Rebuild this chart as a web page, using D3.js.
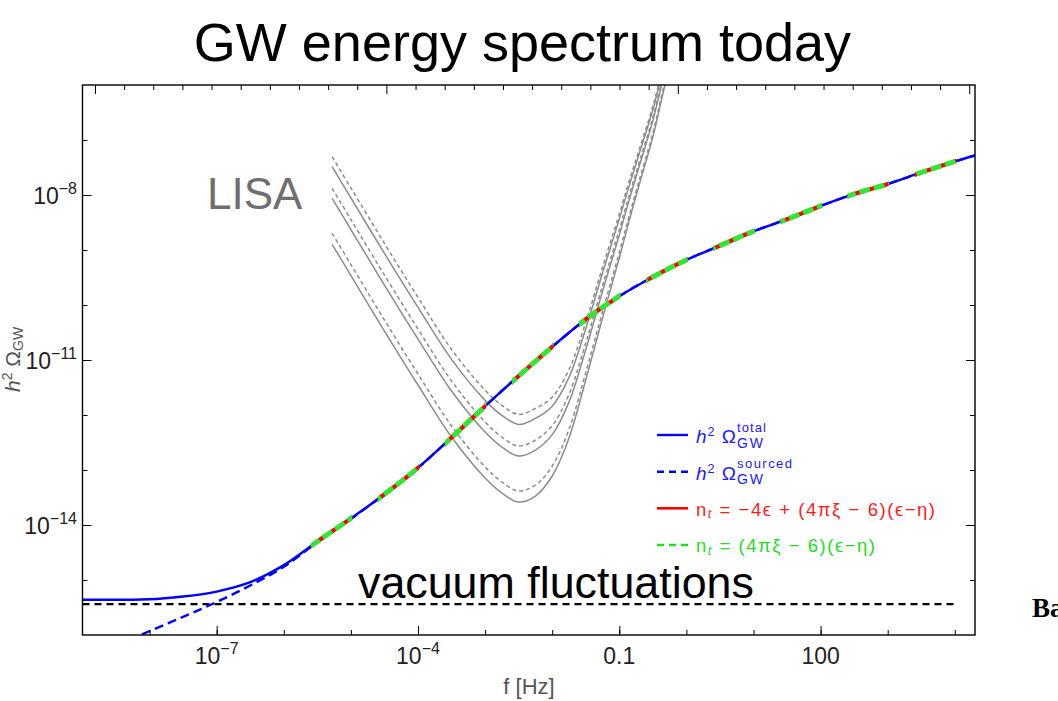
<!DOCTYPE html>
<html><head><meta charset="utf-8">
<script src="https://cdn.jsdelivr.net/npm/d3@7"></script>
<style>
body{margin:0;background:#fff}
svg{display:block}
text{font-family:"Liberation Sans",Arial,Helvetica,sans-serif}
</style>
</head><body>
<svg id="c" width="1058" height="701"></svg>
<script>
// ---------------- DATA ----------------
// total spectrum h^2 Omega_GW^total  (log10 f [Hz], log10 Omega)
const totalLogF     = [-9.0,-8.5,-8.0,-7.5,-7.0,-6.5,-6.0,-5.5,-5.0,-4.5,-4.0,-3.5,-3.0,-2.5,-2.0,-1.5,-1.0,-0.5,0.0,0.5,1.0,1.5,2.0,2.5,3.0,3.5,4.0,4.3];
const totalLogOmega = [-15.36,-15.36,-15.35,-15.30,-15.21,-15.04,-14.73,-14.30,-13.88,-13.44,-12.96,-12.41,-11.84,-11.29,-10.76,-10.26,-9.84,-9.49,-9.18,-8.92,-8.66,-8.44,-8.20,-7.98,-7.80,-7.59,-7.39,-7.28];
// sourced part h^2 Omega_GW^sourced
const sourcedLogF     = [-8.5,-8.0,-7.5,-7.0,-6.5,-6.0,-5.5,-5.0,-4.5,-4.0,-3.5,-3.0,-2.5,-2.0,-1.5,-1.0,-0.5,0.0,0.5,1.0,1.5,2.0,2.5,3.0,3.5,4.0,4.3];
const sourcedLogOmega = [-16.18,-15.93,-15.67,-15.40,-15.10,-14.76,-14.31,-13.89,-13.44,-12.96,-12.41,-11.84,-11.29,-10.76,-10.26,-9.84,-9.49,-9.18,-8.92,-8.66,-8.44,-8.20,-7.98,-7.80,-7.59,-7.39,-7.28];
// n_t approximations drawn on frequency windows (log10 f start, end)
const ntWindowsLogF = [[-5.6,-4.98],[-4.6,-3.98],[-3.6,-2.98],[-2.6,-1.98],[-1.6,-0.98],[-0.6,0.02],[0.4,1.02],[1.4,2.02],[2.4,3.02],[3.4,4.02]];
// vacuum fluctuations level
const vacuumLogOmega = -15.44;
const vacuumLogF = [-9.0, 4.0];
// LISA sensitivity curves
const lisaLogF = [-5.28,-5.0,-4.5,-4.0,-3.5,-3.0,-2.75,-2.5,-2.25,-2.0,-1.75,-1.5,-1.25,-1.0,-0.85,-0.7,-0.5,-0.33,-0.25];
const lisa1 = [-7.303,-7.871,-8.880,-9.862,-10.807,-11.552,-11.825,-11.989,-11.880,-11.675,-11.175,-10.313,-9.312,-8.348,-7.738,-7.163,-6.387,-5.577,-5.212];
const lisa2 = [-7.485,-8.053,-9.062,-10.044,-10.989,-11.734,-12.007,-12.171,-12.062,-11.839,-11.317,-10.433,-9.418,-8.439,-7.820,-7.236,-6.451,-5.632,-5.267];
const lisa3 = [-7.878,-8.446,-9.455,-10.437,-11.382,-12.127,-12.400,-12.564,-12.455,-12.193,-11.624,-10.692,-9.646,-8.636,-7.997,-7.393,-6.589,-5.750,-5.385];
const lisa4 = [-8.060,-8.628,-9.637,-10.619,-11.564,-12.309,-12.582,-12.746,-12.637,-12.357,-11.766,-10.812,-9.751,-8.727,-8.079,-7.466,-6.652,-5.804,-5.439];
const lisa5 = [-8.696,-9.264,-10.273,-11.255,-12.200,-12.945,-13.218,-13.382,-13.273,-12.929,-12.262,-11.232,-10.120,-9.045,-8.365,-7.720,-6.875,-5.995,-5.630];
const lisa6 = [-8.896,-9.464,-10.473,-11.455,-12.400,-13.145,-13.418,-13.582,-13.473,-13.109,-12.418,-11.364,-10.236,-9.145,-8.455,-7.800,-6.945,-6.055,-5.690];
const lisaCurves = [lisa1, lisa2, lisa3, lisa4, lisa5, lisa6];
const lisaDashed = [true, false, true, false, true, false];
// ticks
const xMajorTicks = [1e-7, 1e-4, 0.1, 100];
const xMajorLabels = [["10","\u22127"],["10","\u22124"],["0.1",""],["100",""]];
const xMinorTicks = [1e-8,1e-7,1e-6,1e-5,1e-4,1e-3,1e-2,1e-1,1,10,100,1e3,1e4];
const yMajorTicks = [1e-8, 1e-11, 1e-14];
const yMajorLabels = [["10","\u22128"],["10","\u221211"],["10","\u221214"]];
const yMinorTicks = [1e-15,1e-14,1e-13,1e-12,1e-11,1e-10,1e-9,1e-8,1e-7];
// top frame: e-fold ticks
const topTickStartHz = 1.535e-9;
const topTickN = d3.range(0, 31);

// ---------------- DRAW ----------------
const M = {left:82.5, right:975, top:85, bottom:635};
const x = d3.scaleLog().domain([1e-9, 2e4]).range([M.left, M.right]);
const y = d3.scaleLog().domain([1e-16, 1e-6]).range([M.bottom, M.top]);
const svg = d3.select("#c");
const defs = svg.append("defs");
defs.append("clipPath").attr("id","plot").append("rect")
  .attr("x",M.left).attr("y",M.top).attr("width",M.right-M.left).attr("height",M.bottom-M.top);
const segClip = defs.append("clipPath").attr("id","seg");
ntWindowsLogF.forEach(r => segClip.append("rect")
  .attr("x", x(Math.pow(10,r[0]))).attr("y", M.top)
  .attr("width", x(Math.pow(10,r[1])) - x(Math.pow(10,r[0]))).attr("height", M.bottom-M.top));

const toPts = (lf, lo) => lf.map((f,i) => [Math.pow(10,f), Math.pow(10,lo[i])]);
const line = d3.line().x(d => x(d[0])).y(d => y(d[1])).curve(d3.curveMonotoneX);
const smoothLine = d3.line().x(d => x(d[0])).y(d => y(d[1])).curve(d3.curveCatmullRom.alpha(0.5));

// title
svg.append("text").attr("x",522.5).attr("y",61).attr("text-anchor","middle")
  .attr("font-size",54).attr("fill","#000").text("GW energy spectrum today");

const plot = svg.append("g").attr("clip-path","url(#plot)");

// LISA curves
lisaCurves.forEach((c,i) => {
  plot.append("path").attr("d", smoothLine(toPts(lisaLogF, c)))
    .attr("fill","none").attr("stroke","#8c8c8c").attr("stroke-width",1.5)
    .attr("stroke-dasharray", lisaDashed[i] ? "4,3" : null);
});

// vacuum
plot.append("path").attr("d", d3.line().x(d=>x(d[0])).y(d=>y(d[1]))(vacuumLogF.map(f=>[Math.pow(10,f), Math.pow(10,vacuumLogOmega)])))
  .attr("stroke","#000").attr("stroke-width",2.3).attr("stroke-dasharray","7,5").attr("fill","none");

// sourced (dashed blue)
plot.append("path").attr("d", line(toPts(sourcedLogF, sourcedLogOmega)))
  .attr("fill","none").attr("stroke","#0000ff").attr("stroke-width",2.4).attr("stroke-dasharray","9,5");
// total (solid blue)
plot.append("path").attr("d", line(toPts(totalLogF, totalLogOmega)))
  .attr("fill","none").attr("stroke","#0000ff").attr("stroke-width",2.4);

// n_t approximations (red solid, green dashed) on windows
const segG = plot.append("g").attr("clip-path","url(#seg)");
segG.append("path").attr("d", line(toPts(totalLogF, totalLogOmega)))
  .attr("fill","none").attr("stroke","#ff0000").attr("stroke-width",4.2);
segG.append("path").attr("d", line(toPts(totalLogF, totalLogOmega)))
  .attr("fill","none").attr("stroke","#33e633").attr("stroke-width",5).attr("stroke-dasharray","11,4");

// frame
svg.append("rect").attr("x",M.left).attr("y",M.top).attr("width",M.right-M.left).attr("height",M.bottom-M.top)
  .attr("fill","none").attr("stroke","#000").attr("stroke-width",1.4);

// ticks via d3 axes
function axisG(tr, ax){
  const g = svg.append("g").attr("transform", tr).call(ax);
  g.select(".domain").remove();
  g.selectAll("line").attr("stroke","#000");
  return g;
}
axisG(`translate(0,${M.bottom})`, d3.axisBottom(x).tickValues(xMinorTicks).tickSize(-5).tickFormat(""));
axisG(`translate(0,${M.bottom})`, d3.axisBottom(x).tickValues(xMajorTicks).tickSize(-9).tickFormat(""));
const topF = topTickN.map(n => topTickStartHz*Math.exp(n));
axisG(`translate(0,${M.top})`, d3.axisTop(x).tickValues(topF.filter((f,i)=>topTickN[i]%10!==0)).tickSize(-5).tickFormat(""));
axisG(`translate(0,${M.top})`, d3.axisTop(x).tickValues(topF.filter((f,i)=>topTickN[i]%10===0)).tickSize(-9).tickFormat(""));
axisG(`translate(${M.left},0)`, d3.axisLeft(y).tickValues(yMinorTicks).tickSize(-5).tickFormat(""));
axisG(`translate(${M.left},0)`, d3.axisLeft(y).tickValues(yMajorTicks).tickSize(-9).tickFormat(""));
axisG(`translate(${M.right},0)`, d3.axisRight(y).tickValues(yMinorTicks).tickSize(-5).tickFormat(""));
axisG(`translate(${M.right},0)`, d3.axisRight(y).tickValues(yMajorTicks).tickSize(-9).tickFormat(""));

// tick labels
xMajorTicks.forEach((v,i) => {
  const t = svg.append("text").attr("x", x(v)).attr("y", 664).attr("text-anchor","middle")
    .attr("font-size",23).attr("fill","#222");
  t.append("tspan").text(xMajorLabels[i][0]);
  if (xMajorLabels[i][1]) t.append("tspan").attr("font-size",16).attr("dy",-10).text(xMajorLabels[i][1]);
});
yMajorTicks.forEach((v,i) => {
  const t = svg.append("text").attr("x", 77).attr("y", y(v)+9).attr("text-anchor","end")
    .attr("font-size",23).attr("fill","#222");
  t.append("tspan").text(yMajorLabels[i][0]);
  t.append("tspan").attr("font-size",16).attr("dy",-10).text(yMajorLabels[i][1]);
});

// axis labels
svg.append("text").attr("x",529).attr("y",694).attr("text-anchor","middle")
  .attr("font-size",22).attr("fill","#555").text("f [Hz]");
const yl = svg.append("text").attr("transform","translate(20,392) rotate(-90)")
  .attr("font-size",21).attr("fill","#555");
yl.append("tspan").attr("font-style","italic").text("h");
yl.append("tspan").attr("font-size",14).attr("dy",-8).text("2");
yl.append("tspan").attr("dy",8).text(" \u03a9");
yl.append("tspan").attr("font-size",14).attr("dy",3).text("GW");

// annotations
svg.append("text").attr("x",207).attr("y",209).attr("font-size",44).attr("fill","#6f6f6f").text("LISA");
svg.append("text").attr("x",358).attr("y",598).attr("font-size",44.8).attr("fill","#000").text("vacuum fluctuations");
svg.append("text").attr("x",1032).attr("y",617).attr("font-size",27).attr("font-weight","bold")
  .attr("fill","#000").style("font-family","'Liberation Serif','Times New Roman',serif").text("Ba");

// legend
const lg = svg.append("g");
const rows = [435, 471.7, 508.3, 545];
const lx0 = 657, lx1 = 688, tx = 696;
lg.append("line").attr("x1",lx0).attr("x2",lx1).attr("y1",rows[0]).attr("y2",rows[0]).attr("stroke","#0000ff").attr("stroke-width",2.4);
lg.append("line").attr("x1",lx0).attr("x2",lx1).attr("y1",rows[1]).attr("y2",rows[1]).attr("stroke","#0000ff").attr("stroke-width",2.4).attr("stroke-dasharray","7,5");
lg.append("line").attr("x1",lx0).attr("x2",lx1).attr("y1",rows[2]).attr("y2",rows[2]).attr("stroke","#ff0000").attr("stroke-width",2.6);
lg.append("line").attr("x1",lx0).attr("x2",lx1).attr("y1",rows[3]).attr("y2",rows[3]).attr("stroke","#22dd22").attr("stroke-width",2.6).attr("stroke-dasharray","7,5");

function omegaEntry(row, sup, supW, color){
  const t = lg.append("text").attr("x",tx).attr("y",row+8.3).attr("font-size",19).attr("fill",color)
    .attr("textLength",40).attr("lengthAdjust","spacing");
  t.append("tspan").attr("font-style","italic").text("h");
  t.append("tspan").attr("font-size",12.5).attr("dy",-7).text("2");
  t.append("tspan").attr("dy",7).text(" \u03a9");
  const xe = tx + 41;
  lg.append("text").attr("x",xe).attr("y",row-3.3).attr("font-size",13).attr("fill",color)
    .attr("textLength",supW).attr("lengthAdjust","spacing").text(sup);
  lg.append("text").attr("x",xe).attr("y",row+12.5).attr("font-size",14).attr("fill",color)
    .attr("textLength",26).attr("lengthAdjust","spacing").text("GW");
}
omegaEntry(rows[0], "total", 29, "#1a1aff");
omegaEntry(rows[1], "sourced", 55, "#1a1aff");

function ntEntry(row, rest, w, color){
  const t = lg.append("text").attr("x",tx).attr("y",row+7.2).attr("font-size",18.5).attr("fill",color)
    .attr("textLength",w).attr("lengthAdjust","spacing");
  t.append("tspan").text("n");
  t.append("tspan").attr("font-size",12.5).attr("font-style","italic").attr("dy",2.5).text("t");
  t.append("tspan").attr("dy",-2.5).text(rest);
}
ntEntry(rows[2], " = \u22124\u03f5 + (4\u03c0\u03be \u2212 6)(\u03f5\u2212\u03b7)", 239, "#ff1a1a");
ntEntry(rows[3], " = (4\u03c0\u03be \u2212 6)(\u03f5\u2212\u03b7)", 179, "#22dd22");
</script>
</body></html>
